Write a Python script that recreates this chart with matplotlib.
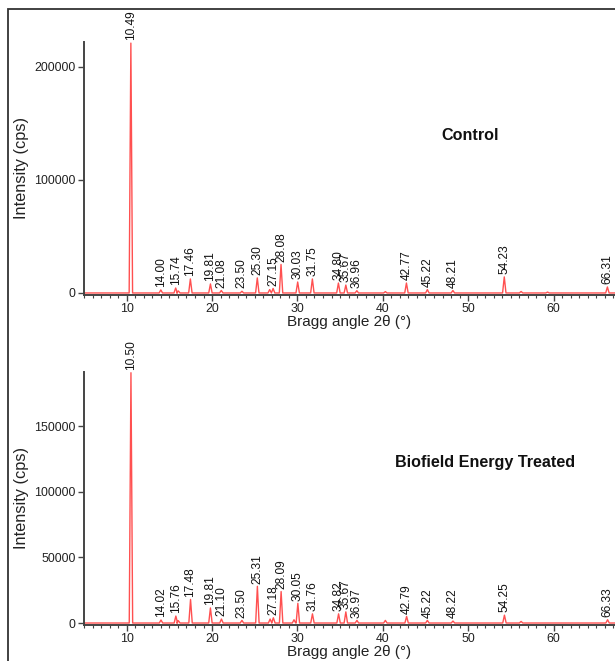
# XRD patterns of control and biofield energy treated sample

import numpy as np
import matplotlib
matplotlib.use("Agg")
import matplotlib.pyplot as plt
from matplotlib.ticker import MultipleLocator
from matplotlib.patches import Rectangle

plt.rcParams["font.family"] = ["Liberation Sans", "DejaVu Sans"]

# peak positions (2 theta) and heights
ctrl_pos = [10.49, 14.00, 15.74, 17.46, 19.81, 21.08, 23.50, 25.30, 27.15, 28.08,
            30.03, 31.75, 34.80, 35.67, 36.96, 42.77, 45.22, 48.21, 54.23, 66.31]
ctrl_int = [221000, 2700, 4400, 12400, 8000, 2200, 1500, 13300, 4000, 25200,
            9700, 12400, 8800, 7000, 2000, 8800, 3000, 2200, 14200, 5300]
ctrl_labels = ["10.49", "14.00", "15.74", "17.46", "19.81", "21.08", "23.50", "25.30",
               "27.15", "28.08", "30.03", "31.75", "34.80", "35.67", "36.96", "42.77",
               "45.22", "48.21", "54.23", "66.31"]
# small unlabelled bumps
ctrl_minor_pos = [16.05, 26.75, 40.3, 56.2, 59.3]
ctrl_minor_int = [1800, 3000, 1200, 1300, 800]

trt_pos = [10.50, 14.02, 15.76, 17.48, 19.81, 21.10, 23.50, 25.31, 27.18, 28.09,
           30.05, 31.76, 34.82, 35.67, 36.97, 42.79, 45.22, 48.22, 54.25, 66.33]
trt_int = [191000, 2300, 5300, 18000, 11500, 3000, 2000, 28000, 4000, 24000,
           15000, 7000, 7000, 8500, 2000, 5000, 2000, 1500, 6000, 2500]
trt_labels = ["10.50", "14.02", "15.76", "17.48", "19.81", "21.10", "23.50", "25.31",
              "27.18", "28.09", "30.05", "31.76", "34.82", "35.67", "36.97", "42.79",
              "45.22", "48.22", "54.25", "66.33"]
trt_minor_pos = [16.05, 26.8, 29.6, 40.3, 56.2]
trt_minor_int = [1800, 3000, 2500, 2000, 1200]


def profile(pos, inten, mpos, minten):
    # spike for each peak on a flat baseline
    allp = sorted(zip(list(pos) + list(mpos), list(inten) + list(minten)))
    xs, ys = [5.0], [0.0]
    for p, h in allp:
        xs += [p - 0.2, p, p + 0.2]
        ys += [0.0, h, 0.0]
    xs.append(70.0)
    ys.append(0.0)
    return np.array(xs), np.array(ys)


fig = plt.figure(figsize=(6.15, 6.61), dpi=100)

# outer frame
fig.add_artist(Rectangle((8 / 615, -0.1), 1.2, 1 - 9 / 661 + 0.1,
                         transform=fig.transFigure, fill=False,
                         edgecolor="#333333", linewidth=1.3))

panels = [
    (0.5537, ctrl_pos, ctrl_int, ctrl_labels, ctrl_minor_pos, ctrl_minor_int,
     (-1800, 222000), [0, 100000, 200000], "Control", (470, 136)),
    (0.0545, trt_pos, trt_int, trt_labels, trt_minor_pos, trt_minor_int,
     (-1500, 191600), [0, 50000, 100000, 150000], "Biofield Energy Treated", (485, 463)),
]

for bottom, pos, inten, labels, mpos, minten, ylim, yticks, title, tpos in panels:
    ax = fig.add_axes([84 / 615, bottom, 1 - 84 / 615, 0.3828])
    x, y = profile(pos, inten, mpos, minten)
    ax.plot(x, y, color="#ff5050", linewidth=1.0)
    ax.set_xlim(5, 67.2)
    ax.set_ylim(*ylim)
    ax.set_yticks(yticks)
    ax.xaxis.set_major_locator(MultipleLocator(10))
    ax.xaxis.set_minor_locator(MultipleLocator(1))
    for s in ["top", "right"]:
        ax.spines[s].set_visible(False)
    for s in ["left", "bottom"]:
        ax.spines[s].set_color("#444444")
        ax.spines[s].set_linewidth(1.4)
    ax.tick_params(axis="both", which="major", length=4, width=1, color="#444444",
                   labelsize=8.9, labelcolor="#222222", pad=2)
    ax.tick_params(axis="x", which="minor", length=2.5, width=0.8, color="#444444")
    ax.set_xlabel("Bragg angle 2θ (°)", fontsize=11, labelpad=0, color="#222222")
    ax.set_ylabel("Intensity (cps)", fontsize=11.8, labelpad=4, color="#222222")
    ax.patch.set_alpha(0)

    for p, h, lab in zip(pos, inten, labels):
        ax.annotate(lab, (p, h), xytext=(0, 2), textcoords="offset points",
                    rotation=90, ha="center", va="bottom", fontsize=8.6,
                    color="#111111", annotation_clip=False)

    fig.text(tpos[0] / 615, 1 - tpos[1] / 661, title, ha="center", va="center",
             fontsize=11.6, fontweight="bold", color="#111111")

fig.savefig("out.png", dpi=100)
